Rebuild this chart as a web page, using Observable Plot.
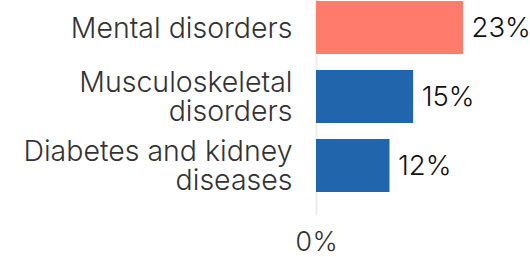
<!DOCTYPE html>
<html>
<head>
<meta charset="utf-8">
<script src="https://cdn.jsdelivr.net/npm/d3@7"></script>
<script src="https://cdn.jsdelivr.net/npm/@observablehq/plot@0.6"></script>
<style>
  html, body { margin: 0; padding: 0; background: #fff; }
  #chart svg { display: block; }
</style>
</head>
<body>
<div id="chart"></div>
<script>
const categories = ["Mental disorders", "Musculoskeletal disorders", "Diabetes and kidney diseases"];
const categoryLabels = ["Mental disorders", "Musculoskeletal\ndisorders", "Diabetes and kidney\ndiseases"];
const values = [23, 15.2, 11.5];
const valueLabels = ["23%", "15%", "12%"];
const colors = ["#ff7b6b", "#2166ac", "#2166ac"];
const xTicks = [0];

const data = categories.map((c, i) => ({
  category: c, label: categoryLabels[i], value: values[i], text: valueLabels[i], color: colors[i]
}));

const chart = Plot.plot({
  width: 530,
  height: 257,
  marginLeft: 316,
  marginRight: 67,
  marginTop: 0,
  marginBottom: 42,
  style: { fontFamily: "Inter, 'Liberation Sans', Arial, sans-serif", fontWeight: 300, background: "#fff" },
  x: { domain: [0, 23], axis: null, label: null },
  y: { domain: categories, range: [-16, 208.5], padding: 0.23, axis: null },
  marks: [
    Plot.ruleX(xTicks, { stroke: "#ececec", strokeWidth: 2 }),
    Plot.barX(data, { x: "value", y: "category", fill: "color" }),
    Plot.text(data, { x: 0, y: "category", text: "label", textAnchor: "end", dx: -24, fontSize: 28.5, lineHeight: 1.04, fill: "#333" }),
    Plot.text(data, { x: "value", y: "category", text: "text", textAnchor: "start", dx: 8, fontSize: 27.5, fill: "#111" }),
    Plot.axisX({ ticks: xTicks, tickFormat: d => d + "%", tickSize: 0, tickPadding: 16, fontSize: 27, color: "#333", label: null })
  ]
});
document.getElementById("chart").appendChild(chart);
</script>
</body>
</html>
